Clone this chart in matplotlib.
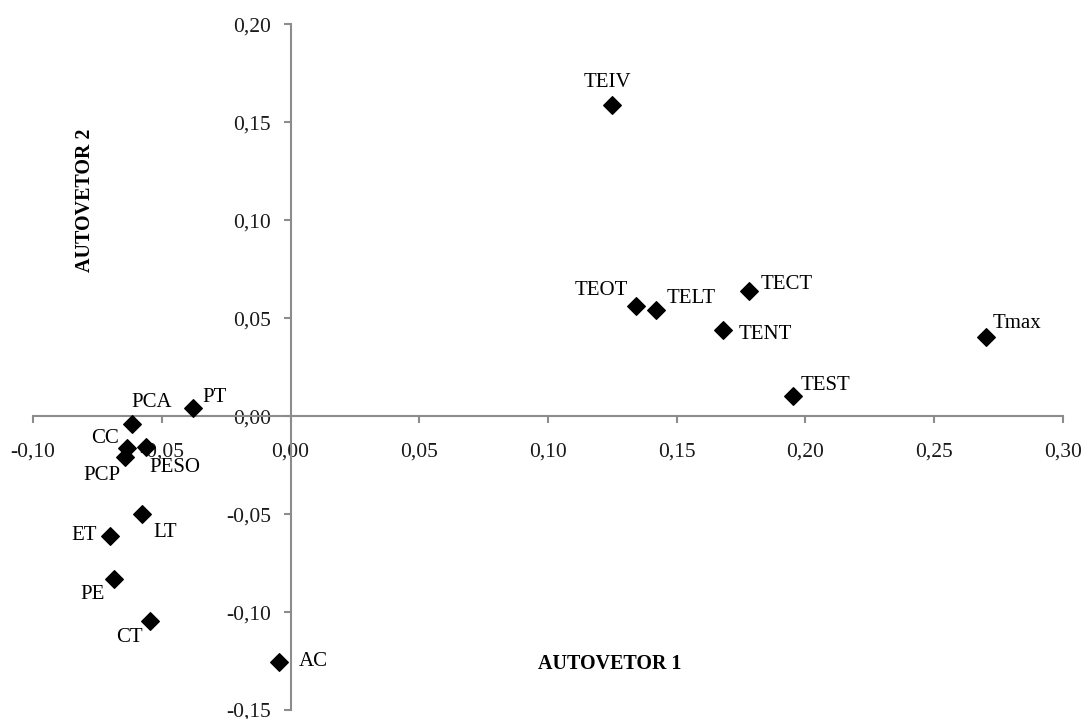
import matplotlib
matplotlib.use("Agg")
import matplotlib.pyplot as plt
from matplotlib.ticker import FuncFormatter

# loadings on the two eigenvectors
labels = ["TEIV", "TEOT", "TELT", "TECT", "TENT", "TEST", "Tmax",
          "PT", "PCA", "CC", "PESO", "PCP", "LT", "ET", "PE", "CT", "AC"]
autovetor1 = [0.1247, 0.134, 0.142, 0.178, 0.168, 0.195, 0.270,
              -0.0379, -0.0615, -0.0634, -0.056, -0.0642, -0.0576, -0.0703, -0.0686, -0.0544, -0.0043]
autovetor2 = [0.159, 0.056, 0.054, 0.064, 0.044, 0.0105, 0.0405,
              0.0044, -0.0041, -0.0163, -0.0158, -0.021, -0.050, -0.0611, -0.0832, -0.1047, -0.1255]

# label offsets in pixels (dx, dy) and horizontal alignment
label_pos = {
    "TEIV": ((-4, 22), "center"),
    "TEOT": ((-8, 16), "right"),
    "TELT": ((10, 12), "left"),
    "TECT": ((12, 6), "left"),
    "TENT": ((16, -5), "left"),
    "TEST": ((8, 10), "left"),
    "Tmax": ((7, 13), "left"),
    "PT": ((9, 10), "left"),
    "PCA": ((20, 22), "center"),
    "CC": ((-8, 10), "right"),
    "PESO": ((3, -20), "left"),
    "PCP": ((-5, -18), "right"),
    "LT": ((11, -18), "left"),
    "ET": ((-13, 0), "right"),
    "PE": ((-9, -15), "right"),
    "CT": ((-8, -16), "right"),
    "AC": ((19, 1), "left"),
}

plt.rcParams['font.family'] = ['Liberation Serif', 'DejaVu Serif']

fig = plt.figure(figsize=(10.83, 7.19), dpi=100)
ax = fig.add_axes([0.0305, 0.0125, 0.951, 0.9537])

ax.scatter(autovetor1, autovetor2, marker='D', s=80, color='black', zorder=3)

for lab, x, y in zip(labels, autovetor1, autovetor2):
    (dx, dy), ha = label_pos[lab]
    ax.annotate(lab, (x, y), xytext=(dx, dy), textcoords='offset pixels',
                ha=ha, va='center', fontsize=15)

ax.set_xlim(-0.10, 0.30)
ax.set_ylim(-0.15, 0.20)
ax.set_xticks([-0.10, -0.05, 0.0, 0.05, 0.10, 0.15, 0.20, 0.25, 0.30])
ax.set_yticks([-0.15, -0.10, -0.05, 0.0, 0.05, 0.10, 0.15, 0.20])
fmt = FuncFormatter(lambda v, p: f"{v:.2f}".replace(".", ",").replace("-0,00", "0,00"))
ax.xaxis.set_major_formatter(fmt)
ax.yaxis.set_major_formatter(fmt)

ax.spines['left'].set_position(('data', 0))
ax.spines['bottom'].set_position(('data', 0))
ax.spines['top'].set_visible(False)
ax.spines['right'].set_visible(False)
for s in ('left', 'bottom'):
    ax.spines[s].set_color('#8c8c8c')
    ax.spines[s].set_linewidth(1.5)
ax.tick_params(axis='both', direction='out', length=5, width=1.5, color='#8c8c8c',
               labelsize=15.5, labelcolor='#1a1a1a')
ax.tick_params(axis='x', pad=14)
ax.tick_params(axis='y', pad=9)

ax.text(0.1239, -0.1265, "AUTOVETOR 1", ha='center', va='center', fontsize=14.4, fontweight='bold')
ax.text(-0.080, 0.110, "AUTOVETOR 2", ha='center', va='center', fontsize=14.4,
        fontweight='bold', rotation=90)

fig.savefig("out.png", dpi=100)
